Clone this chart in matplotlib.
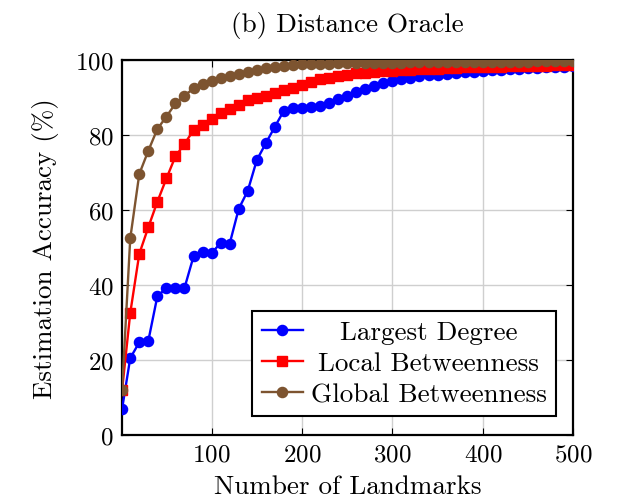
import matplotlib
matplotlib.use("Agg")
import matplotlib.pyplot as plt
from matplotlib.transforms import Affine2D

landmarks = [1] + list(range(10, 501, 10))

largest_degree = [7.0, 20.5, 24.7, 25.1, 37.0, 39.2, 39.2, 39.2, 47.6, 48.7,
                  48.5, 51.2, 51.0, 60.3, 65.1, 73.3, 77.8, 82.2, 86.5, 87.1,
                  87.2, 87.4, 87.6, 88.5, 89.5, 90.5, 91.5, 92.3, 93.1, 93.8,
                  94.5, 95.0, 95.3, 95.7, 95.9, 96.1, 96.3, 96.5, 96.7, 96.9,
                  97.1, 97.2, 97.4, 97.5, 97.6, 97.8, 97.9, 98.0, 98.1, 98.2,
                  98.3]

local_betweenness = [12.0, 32.5, 48.3, 55.4, 62.2, 68.4, 74.3, 77.6, 81.3, 82.7,
                     84.3, 85.8, 86.9, 88.0, 89.2, 89.8, 90.5, 91.2, 91.9, 92.6,
                     93.3, 94.0, 94.8, 95.3, 95.8, 96.1, 96.4, 96.6, 96.8, 97.0,
                     97.1, 97.3, 97.4, 97.5, 97.6, 97.7, 97.8, 97.9, 98.0, 98.05,
                     98.1, 98.15, 98.2, 98.3, 98.35, 98.4, 98.45, 98.5, 98.6, 98.65,
                     98.7]

global_betweenness = [12.0, 52.4, 69.6, 75.8, 81.6, 84.9, 88.4, 90.5, 92.4, 93.6,
                      94.5, 95.1, 95.8, 96.3, 96.9, 97.3, 97.8, 98.0, 98.3, 98.7,
                      98.8, 98.9, 99.0, 99.05, 99.1, 99.1, 99.15, 99.2, 99.2, 99.25,
                      99.3, 99.3, 99.35, 99.35, 99.4, 99.4, 99.4, 99.45, 99.45, 99.5,
                      99.5, 99.5, 99.5, 99.55, 99.55, 99.55, 99.6, 99.6, 99.6, 99.6,
                      99.6]

series_labels = ["Largest Degree", "Local Betweenness", "Global Betweenness"]
x_ticks = [100, 200, 300, 400, 500]
y_ticks = [0, 20, 40, 60, 80, 100]

plt.rcParams['font.family'] = ['cmr10', 'DejaVu Serif']
plt.rcParams['mathtext.fontset'] = 'cm'
plt.rcParams['axes.formatter.use_mathtext'] = True

fig = plt.figure(figsize=(6.23, 5.02), dpi=100)
ax = fig.add_axes([0.196, 0.1315, 0.724, 0.747])

ax.plot(landmarks, largest_degree, color='#0000ff', marker='o', markersize=7.3,
        linewidth=1.7, label=series_labels[0], zorder=3)
ax.plot(landmarks, local_betweenness, color='#ff0000', marker='s', markersize=6.8,
        linewidth=1.7, label=series_labels[1], zorder=4)
ax.plot(landmarks, global_betweenness, color='#7d5430', marker='o', markersize=7.3,
        linewidth=1.7, label=series_labels[2], zorder=5)

ax.set_xlim(1, 500)
ax.set_ylim(0, 100)
ax.set_xticks(x_ticks)
ax.set_yticks(y_ticks)
ax.grid(True, color='#cfcfcf', linewidth=1.0, zorder=0)
ax.set_axisbelow(True)
ax.tick_params(direction='in', top=True, right=True, length=5, width=0.8,
               labelsize=18, pad=6)
for s in ax.spines.values():
    s.set_linewidth(1.6)
    s.set_color('black')

ax.set_xlabel("Number of Landmarks", fontsize=19.5, labelpad=6)
ax.set_ylabel("Estimation Accuracy (%)", fontsize=19.5, labelpad=12)
ax.set_title("(b) Distance Oracle", fontsize=19.5, pad=21)

leg = ax.legend(loc='lower right', fontsize=19.5, frameon=True, fancybox=False,
                edgecolor='black', framealpha=1, handlelength=1.5,
                borderpad=0.35, labelspacing=0.27, handletextpad=0.3,
                borderaxespad=0.0, bbox_to_anchor=(0.962, 0.05))
leg.get_frame().set_linewidth(1.5)
fig.canvas.draw()
renderer = fig.canvas.get_renderer()
texts = leg.get_texts()
widths = [t.get_window_extent(renderer).width for t in texts]
maxw = max(widths)
for t, w in zip(texts, widths):
    dx = (maxw - w) / 2.0
    t.set_transform(t.get_transform() + Affine2D().translate(dx, 0))

fig.savefig("out.png", dpi=100)
